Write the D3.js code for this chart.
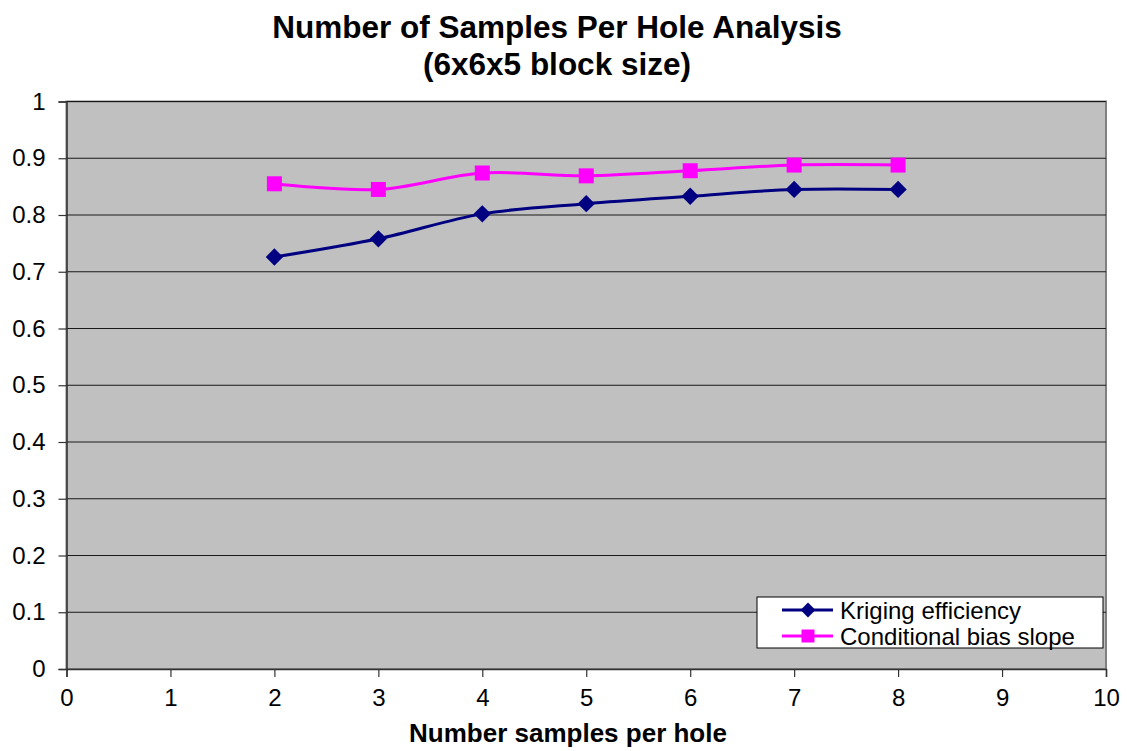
<!DOCTYPE html>
<html>
<head>
<meta charset="utf-8">
<script src="https://cdn.jsdelivr.net/npm/d3@7"></script>
<style>
  body { margin: 0; background: #fff; }
  text { font-family: "Liberation Sans", Arial, sans-serif; }
</style>
</head>
<body>
<svg id="chart" width="1127" height="751"></svg>
<script>
// data
const samples = [2, 3, 4, 5, 6, 7, 8];
const krigingEff = [0.726, 0.758, 0.802, 0.820, 0.833, 0.845, 0.845];
const condBias = [0.855, 0.845, 0.874, 0.869, 0.878, 0.888, 0.888];
const xTicks = [0, 1, 2, 3, 4, 5, 6, 7, 8, 9, 10];
const yTicks = [0, 0.1, 0.2, 0.3, 0.4, 0.5, 0.6, 0.7, 0.8, 0.9, 1];
const seriesNames = ["Kriging efficiency", "Conditional bias slope"];

const svg = d3.select("#chart");
const plotL = 66.5, plotR = 1106, plotT = 101.5, plotB = 669;

const x = d3.scaleLinear().domain([0, 10]).range([plotL, plotR]);
const y = d3.scaleLinear().domain([0, 1]).range([plotB, plotT]);

// plot background
svg.append("rect")
  .attr("x", plotL).attr("y", plotT)
  .attr("width", plotR - plotL).attr("height", plotB - plotT)
  .attr("fill", "#c0c0c0")
  .attr("stroke", "#808080").attr("stroke-width", 2);

// gridlines
svg.append("g").selectAll("line")
  .data(yTicks.filter(d => d > 0))
  .enter().append("line")
  .attr("x1", plotL).attr("x2", plotR)
  .attr("y1", d => y(d)).attr("y2", d => y(d))
  .attr("stroke", "#1a1a1a").attr("stroke-width", 1.2);

// axes
const yAxis = svg.append("g")
  .attr("transform", `translate(${plotL},0)`)
  .call(d3.axisLeft(y).tickValues(yTicks).tickSize(8).tickPadding(13)
    .tickFormat(d => String(+d.toFixed(1))));
const xAxis = svg.append("g")
  .attr("transform", `translate(0,${plotB})`)
  .call(d3.axisBottom(x).tickValues(xTicks).tickSize(8).tickPadding(12)
    .tickFormat(d3.format("d")));
[yAxis, xAxis].forEach(g => {
  g.select(".domain").attr("stroke", "#333").attr("stroke-width", 1.5);
  g.selectAll(".tick line").attr("stroke", "#333").attr("stroke-width", 1.2);
  g.selectAll(".tick text").attr("fill", "#000").style("font-size", "24px")
    .style("font-family", "'Liberation Sans', Arial, sans-serif");
});

// lines
const line = d3.line()
  .x(d => x(d[0])).y(d => y(d[1]))
  .curve(d3.curveCatmullRom.alpha(0.5));

const kData = samples.map((s, i) => [s, krigingEff[i]]);
const cData = samples.map((s, i) => [s, condBias[i]]);

svg.append("path").datum(kData).attr("d", line)
  .attr("fill", "none").attr("stroke", "#000080").attr("stroke-width", 3);
svg.append("path").datum(cData).attr("d", line)
  .attr("fill", "none").attr("stroke", "#ff00ff").attr("stroke-width", 3);

svg.append("g").selectAll("path")
  .data(kData).enter().append("path")
  .attr("transform", d => `translate(${x(d[0])},${y(d[1])}) rotate(45)`)
  .attr("d", d3.symbol().type(d3.symbolSquare).size(150))
  .attr("fill", "#000080");

svg.append("g").selectAll("rect")
  .data(cData).enter().append("rect")
  .attr("x", d => x(d[0]) - 7.5).attr("y", d => y(d[1]) - 7.5)
  .attr("width", 15).attr("height", 15)
  .attr("fill", "#ff00ff");

// title
svg.append("text").attr("x", 557).attr("y", 38)
  .attr("text-anchor", "middle").style("font-size", "31.5px").style("font-weight", "bold")
  .text("Number of Samples Per Hole Analysis");
svg.append("text").attr("x", 557).attr("y", 75)
  .attr("text-anchor", "middle").style("font-size", "31.5px").style("font-weight", "bold")
  .text("(6x6x5 block size)");

// x axis title
svg.append("text").attr("x", 568).attr("y", 742)
  .attr("text-anchor", "middle").style("font-size", "26px").style("font-weight", "bold")
  .text("Number samples per hole");

// legend
const lg = svg.append("g").attr("transform", "translate(757,597)");
lg.append("rect").attr("width", 346).attr("height", 51)
  .attr("fill", "#fff").attr("stroke", "#000").attr("stroke-width", 1);
const colors = ["#000080", "#ff00ff"];
seriesNames.forEach((name, i) => {
  const cy = 13 + i * 26;
  lg.append("line").attr("x1", 25).attr("x2", 76).attr("y1", cy).attr("y2", cy)
    .attr("stroke", colors[i]).attr("stroke-width", 3);
  if (i === 0) {
    lg.append("path").attr("transform", `translate(51,${cy}) rotate(45)`)
      .attr("d", d3.symbol().type(d3.symbolSquare).size(110)).attr("fill", colors[i]);
  } else {
    lg.append("rect").attr("x", 44.5).attr("y", cy - 6.5).attr("width", 13).attr("height", 13)
      .attr("fill", colors[i]);
  }
  lg.append("text").attr("x", 83).attr("y", cy + 8.5)
    .style("font-size", "24px").text(name);
});
</script>
</body>
</html>
